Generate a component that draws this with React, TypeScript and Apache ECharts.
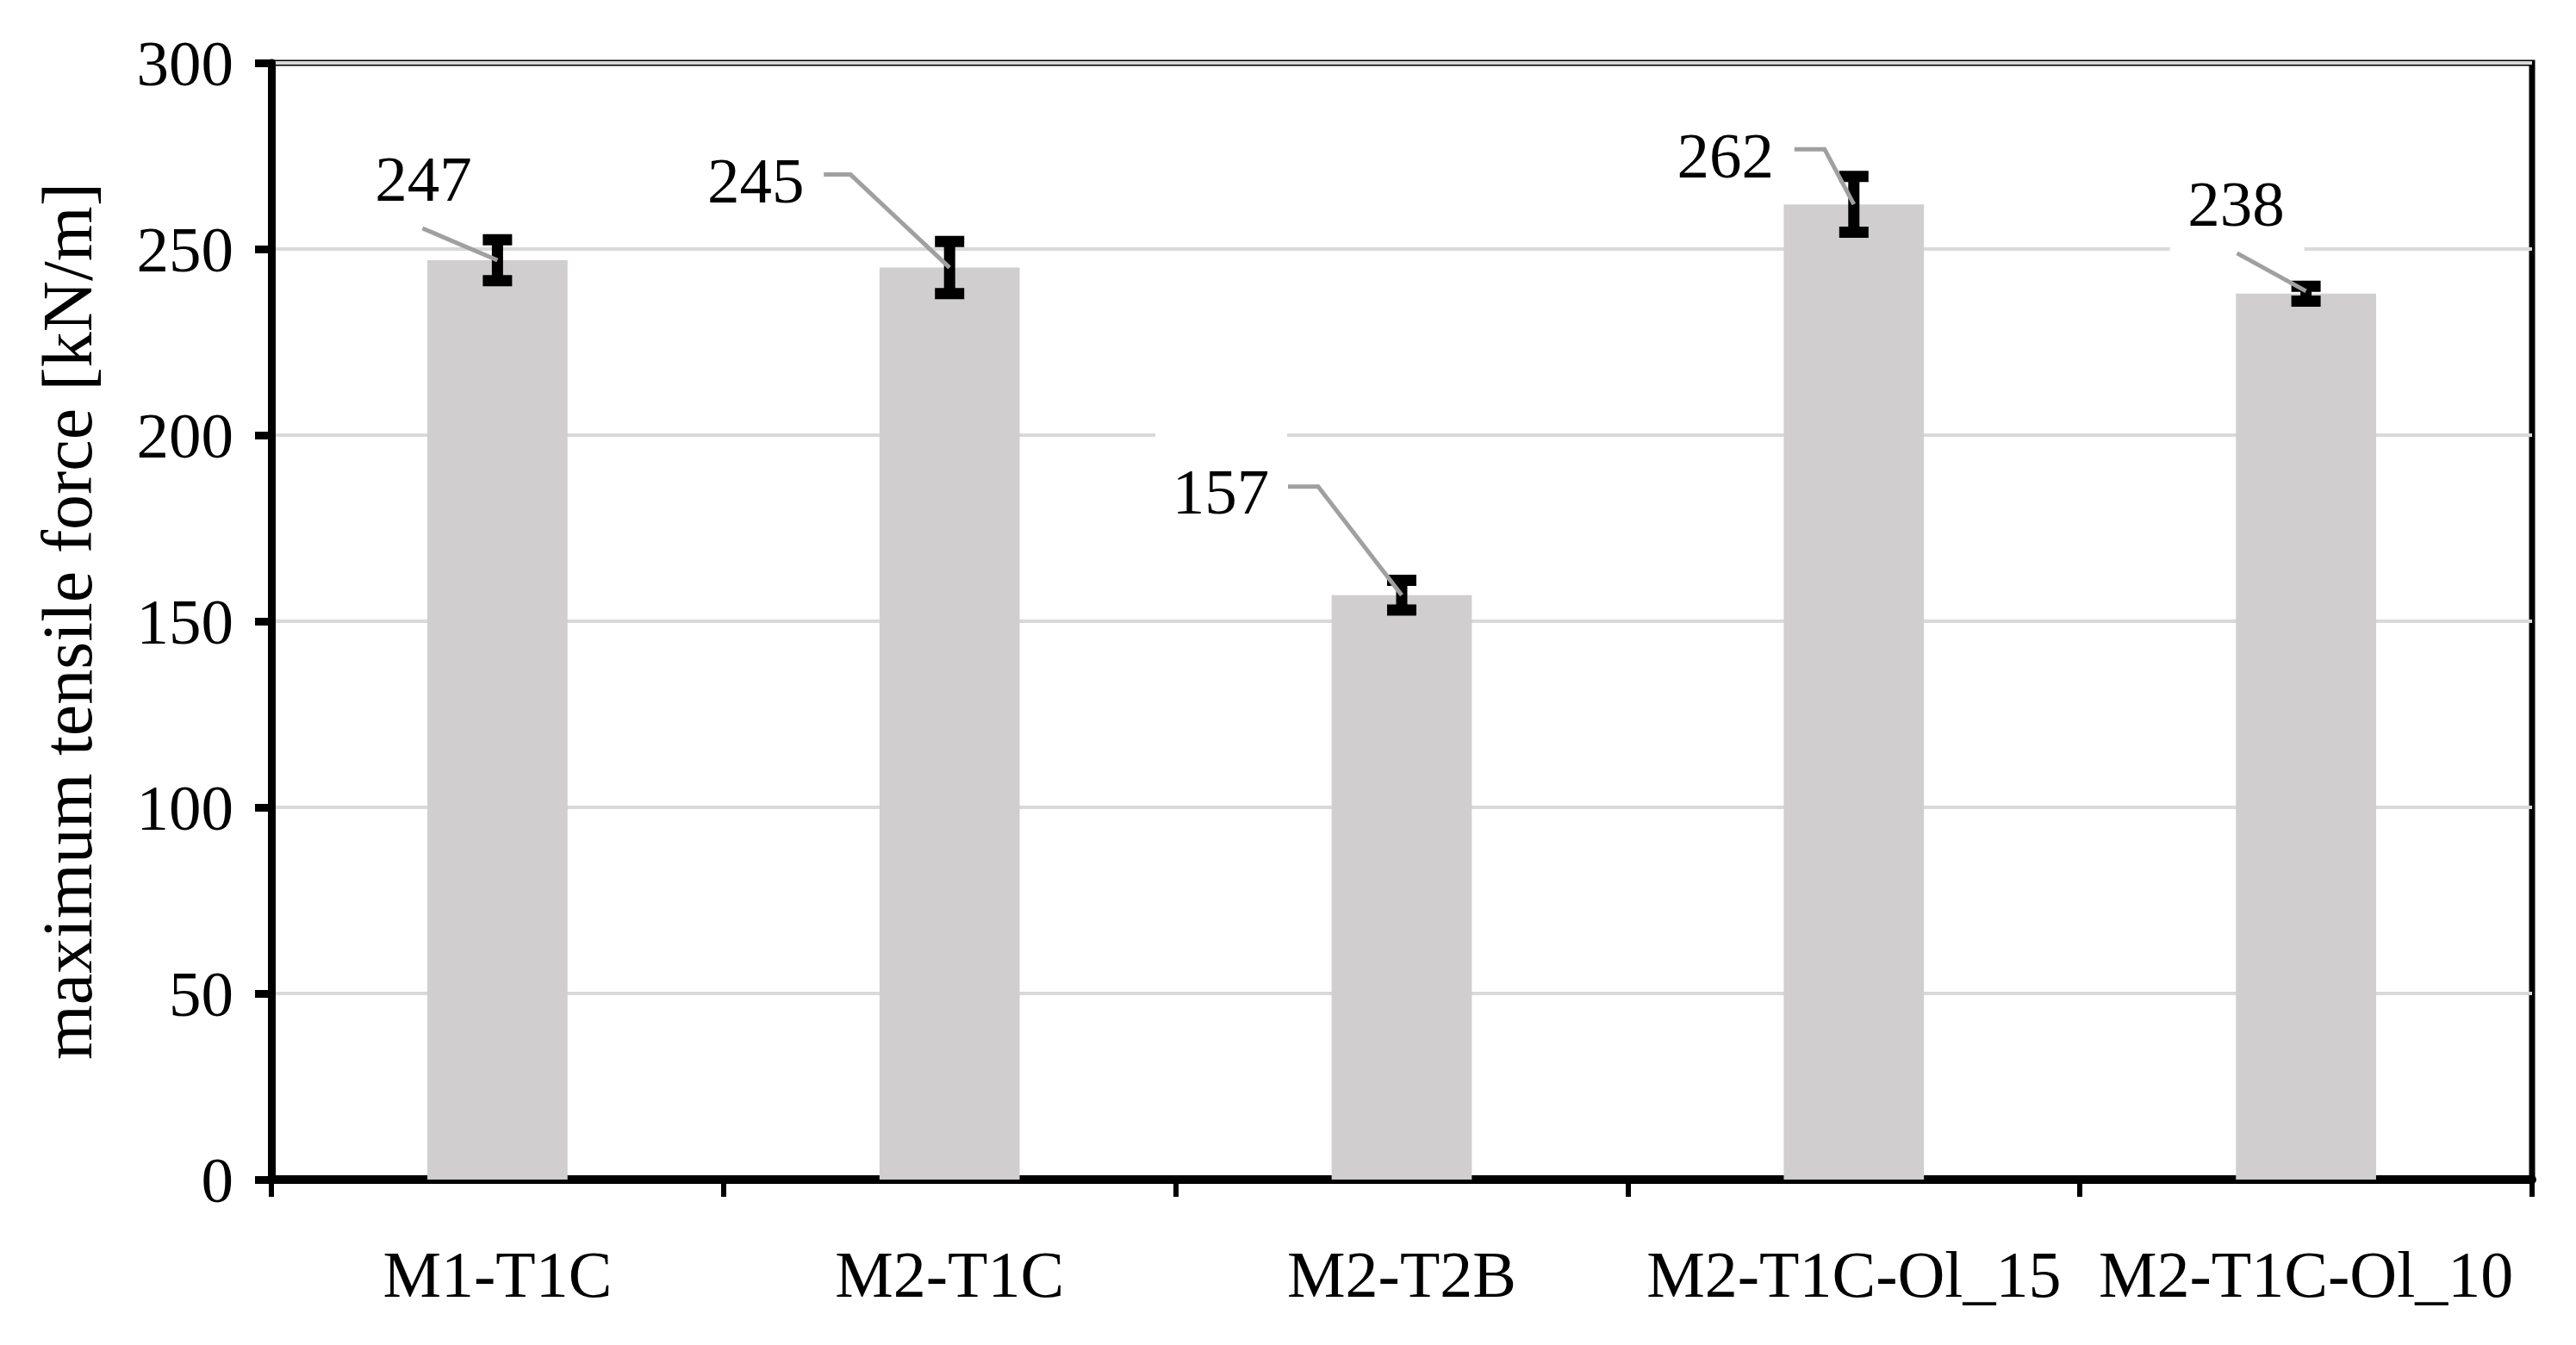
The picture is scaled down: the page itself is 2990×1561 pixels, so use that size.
import React, { useEffect, useRef } from "react";
import * as echarts from "echarts";

// ---- data ----
const CATEGORIES = ["M1-T1C", "M2-T1C", "M2-T2B", "M2-T1C-Ol_15", "M2-T1C-Ol_10"];
const VALUES = [247, 245, 157, 262, 238];
const ERRORS = [5.5, 7, 4, 7.5, 2];
const Y_MIN = 0;
const Y_MAX = 300;
const Y_INTERVAL = 50;
const Y_NAME = "maximum tensile force [kN/m]";

// ---- label layout (pixel offsets from the top centre of each bar) ----
type Layout = { text: number[]; line: number[][]; mask: number[] | null };
const LABEL_LAYOUT: Layout[] = [
  { text: [-86, -94], line: [[-87, -37], [0, 0]], mask: null },
  { text: [-225, -101], line: [[-146, -108], [-115, -108], [0, 0]], mask: null },
  { text: [-210, -120], line: [[-132, -126], [-97, -126], [0, 0]], mask: [-286, -196, 153, 20] },
  { text: [-149, -57], line: [[-69, -64], [-34, -64], [0, 0]], mask: null },
  { text: [-81, -104], line: [[-80, -47], [0, -3]], mask: [-158, -62, 156, 20] },
];

const FONT = "'Liberation Serif', 'Times New Roman', serif";

export default function App() {
  const ref = useRef<HTMLDivElement>(null);

  useEffect(() => {
    if (!ref.current) return;
    const chart = echarts.init(ref.current, null, { renderer: "svg" });

    const errData = CATEGORIES.map((_, i) => [i, VALUES[i] - ERRORS[i], VALUES[i] + ERRORS[i]]);
    const labelData = CATEGORIES.map((_, i) => [i, VALUES[i]]);

    chart.setOption({
      animation: false,
      backgroundColor: "#ffffff",
      grid: {
        left: 315,
        right: 51,
        top: 73,
        bottom: 192,
        show: true,
        borderColor: "#000000",
        borderWidth: 7,
        backgroundColor: "transparent",
      },
      xAxis: {
        type: "category",
        data: CATEGORIES,
        boundaryGap: true,
        axisLine: { show: true, lineStyle: { color: "#000000", width: 10 } },
        axisTick: { show: true, interval: 0, length: 20, lineStyle: { color: "#000000", width: 6 } },
        axisLabel: {
          interval: 0,
          margin: 72,
          color: "#000000",
          fontFamily: FONT,
          fontSize: 76,
        },
        splitLine: { show: false },
      },
      yAxis: {
        type: "value",
        min: Y_MIN,
        max: Y_MAX,
        interval: Y_INTERVAL,
        name: Y_NAME,
        nameLocation: "middle",
        nameGap: 237,
        nameTextStyle: {
          color: "#000000",
          fontFamily: FONT,
          fontSize: 82,
          verticalAlign: "middle",
        },
        axisLine: { show: true, lineStyle: { color: "#000000", width: 9 } },
        axisTick: { show: true, length: 19, lineStyle: { color: "#000000", width: 9 } },
        axisLabel: {
          margin: 44,
          color: "#000000",
          fontFamily: FONT,
          fontSize: 75,
        },
        splitLine: { show: true, lineStyle: { color: "#D9D9D9", width: 4 } },
      },
      series: [
        {
          type: "bar",
          data: VALUES,
          barWidth: "31%",
          itemStyle: { color: "#D0CECE" },
          silent: true,
          z: 2,
        },
        {
          type: "custom",
          data: errData,
          silent: true,
          z: 3,
          renderItem: (params: any, api: any) => {
            const i = api.value(0);
            const lo = api.coord([i, api.value(1)]);
            const hi = api.coord([i, api.value(2)]);
            const half = 17;
            const style = { stroke: "#000000", lineWidth: 13, lineCap: "butt" };
            return {
              type: "group",
              children: [
                { type: "line", shape: { x1: hi[0], y1: hi[1], x2: lo[0], y2: lo[1] }, style },
                { type: "line", shape: { x1: hi[0] - half, y1: hi[1], x2: hi[0] + half, y2: hi[1] }, style },
                { type: "line", shape: { x1: lo[0] - half, y1: lo[1], x2: lo[0] + half, y2: lo[1] }, style },
              ],
            };
          },
        },
        {
          type: "custom",
          data: labelData,
          silent: true,
          clip: false,
          z: 4,
          renderItem: (params: any, api: any) => {
            const idx = params.dataIndex;
            const i = api.value(0);
            const v = api.value(1);
            const p = api.coord([i, v]);
            const lay = LABEL_LAYOUT[idx];
            const children: any[] = [];
            if (lay.mask) {
              children.push({
                type: "rect",
                shape: { x: p[0] + lay.mask[0], y: p[1] + lay.mask[1], width: lay.mask[2], height: lay.mask[3] },
                style: { fill: "#ffffff" },
              });
            }
            children.push({
              type: "polyline",
              shape: { points: lay.line.map((o) => [p[0] + o[0], p[1] + o[1]]) },
              style: { stroke: "#A0A0A0", lineWidth: 5, fill: "none" },
            });
            children.push({
              type: "text",
              x: p[0] + lay.text[0],
              y: p[1] + lay.text[1],
              style: {
                text: String(v),
                fill: "#000000",
                font: `75px ${FONT}`,
                align: "center",
                verticalAlign: "middle",
              },
            });
            return { type: "group", children };
          },
        },
      ],
    });

    return () => chart.dispose();
  }, []);

  return (
    <div
      ref={ref}
      style={{ position: "fixed", left: 0, top: 0, width: 2990, height: 1561, background: "#ffffff" }}
    />
  );
}
